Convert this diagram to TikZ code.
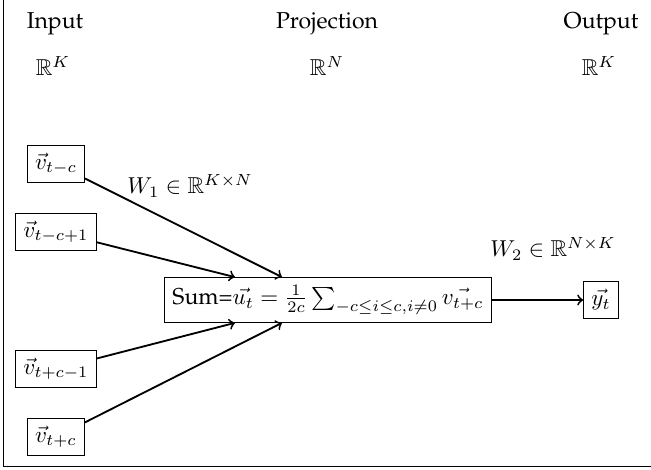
\documentclass[tikz,border=0pt]{standalone}
\usepackage[T1]{fontenc}
\renewcommand{\rmdefault}{ppl}
\usepackage{amssymb}
\usetikzlibrary{calc}
\begin{document}
\begin{tikzpicture}[x=0.4348pt,y=-0.4348pt,
  box/.style={draw,line width=0.4pt},
  conn/.style={->,thick}]
\useasboundingbox (0,0) rectangle (651,470);
\draw (3,0) -- (3,466) -- (651,466);
\node (in) at (55,24) {Input};
\node (inR) at (53,66) {$\mathbb{R}^K$};
\node (proj) at (327,24) {Projection};
\node (projR) at (327,66) {$\mathbb{R}^N$};
\node (out) at (601,24) {Output};
\node (outR) at (599,66) {$\mathbb{R}^K$};
\node[box] (v1) at (56,164) {$\vec{v}_{t-c}$};
\node[box] (v2) at (56,232) {$\vec{v}_{t-c+1}$};
\node[box] (v3) at (56,369) {$\vec{v}_{t+c-1}$};
\node[box] (v4) at (56,437) {$\vec{v}_{t+c}$};
\node[box] (sum) at (328,300) {Sum=$\vec{u_t} = \frac{1}{2c}\sum_{-c\leq i\leq c, i\neq 0} \vec{v_{t+c}}$};
\node[box] (y) at (601,300) {$\vec{y_t}$};
\node (w1) at (190,186) {$W_1 \in \mathbb{R}^{K\times N}$};
\node (w2) at (553,249) {$W_2 \in \mathbb{R}^{N\times K}$};
\coordinate (a1) at ($(sum.north)+(-46,0)$);
\coordinate (a2) at ($(sum.north)+(-93,0)$);
\coordinate (b1) at ($(sum.south)+(-46,0)$);
\coordinate (b2) at ($(sum.south)+(-93,0)$);
\draw[conn] (v1) -- (a1);
\draw[conn] (v2) -- (a2);
\draw[conn] (v3) -- (b2);
\draw[conn] (v4) -- (b1);
\draw[conn] (sum) -- (y);
\end{tikzpicture}
\end{document}
